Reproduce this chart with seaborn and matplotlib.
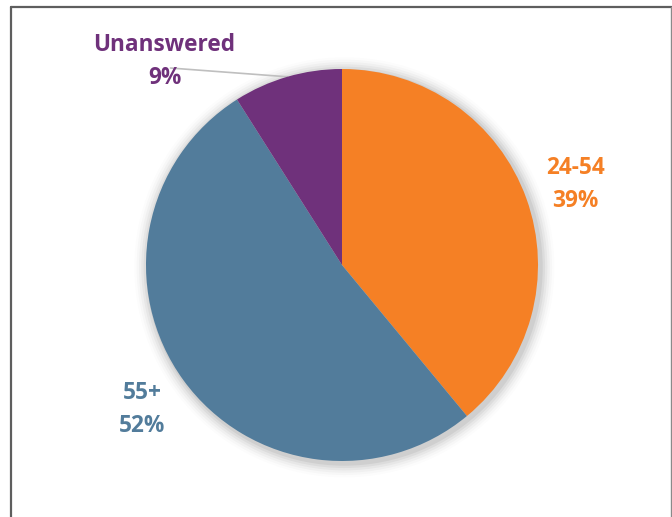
import numpy as np
import matplotlib
matplotlib.use("Agg")
import matplotlib.pyplot as plt
import seaborn as sns
from matplotlib.lines import Line2D
from matplotlib.patches import Circle

groups = ["24-54", "55+", "Unanswered"]
shares = [39, 52, 9]
colors = ["#F58025", "#527C9B", "#6F317B"]

# label spots (data units, pie radius = 1)
label_xy = [(1.19, 0.41), (-1.02, -0.735), (-0.905, 1.04)]

sns.set_style("white")
plt.rcParams['font.family'] = ['Open Sans', 'DejaVu Sans']

W, H = 672, 517
fig = plt.figure(figsize=(W / 100, H / 100), dpi=100)
ax = fig.add_axes([0, 0, 1, 1])

R = 196.0
cx, cy = 342.0, 252.0

# soft shadow behind the pie
for i, a in enumerate(np.linspace(0.05, 0.012, 6)):
    ax.add_patch(Circle((0.012, -0.012), 1 + 0.012 * (i + 1), color="black",
                        alpha=a, lw=0, zorder=0))

wedges, _ = ax.pie(shares, colors=colors, startangle=90, counterclock=False,
                   wedgeprops=dict(linewidth=0), radius=1)
for w in wedges:
    w.set_zorder(2)

for g, s, c, (x, y) in zip(groups, shares, colors, label_xy):
    ax.text(x, y, f"{g}\n{s}%", color=c, fontsize=16.3, fontweight="bold",
            ha="center", va="center", linespacing=1.5, zorder=3)

# leader line for the small slice
mid = np.deg2rad(90 - 360 * (sum(shares[:2]) + shares[2] / 2) / 100)
ax.plot([-0.875, np.cos(mid)], [1.005, np.sin(mid)], color="#BFBFBF", lw=1.2,
        zorder=1)

ax.set_aspect("auto")
ax.set_xlim(-cx / R, (W - cx) / R)
ax.set_ylim(-cy / R, (H - cy) / R)
ax.axis("off")

# chart frame
fig.add_artist(Line2D([10.5 / W, 10.5 / W], [0, 1 - 6.5 / H], color="#5E5E5E",
                      lw=1.6, transform=fig.transFigure))
fig.add_artist(Line2D([10.5 / W, 1], [1 - 6.5 / H, 1 - 6.5 / H], color="#5E5E5E",
                      lw=1.6, transform=fig.transFigure))
fig.add_artist(Line2D([670.5 / W, 670.5 / W], [0, 1 - 6.5 / H], color="#8A8A8A",
                      lw=1.0, transform=fig.transFigure))

fig.savefig("out.png", dpi=100)
